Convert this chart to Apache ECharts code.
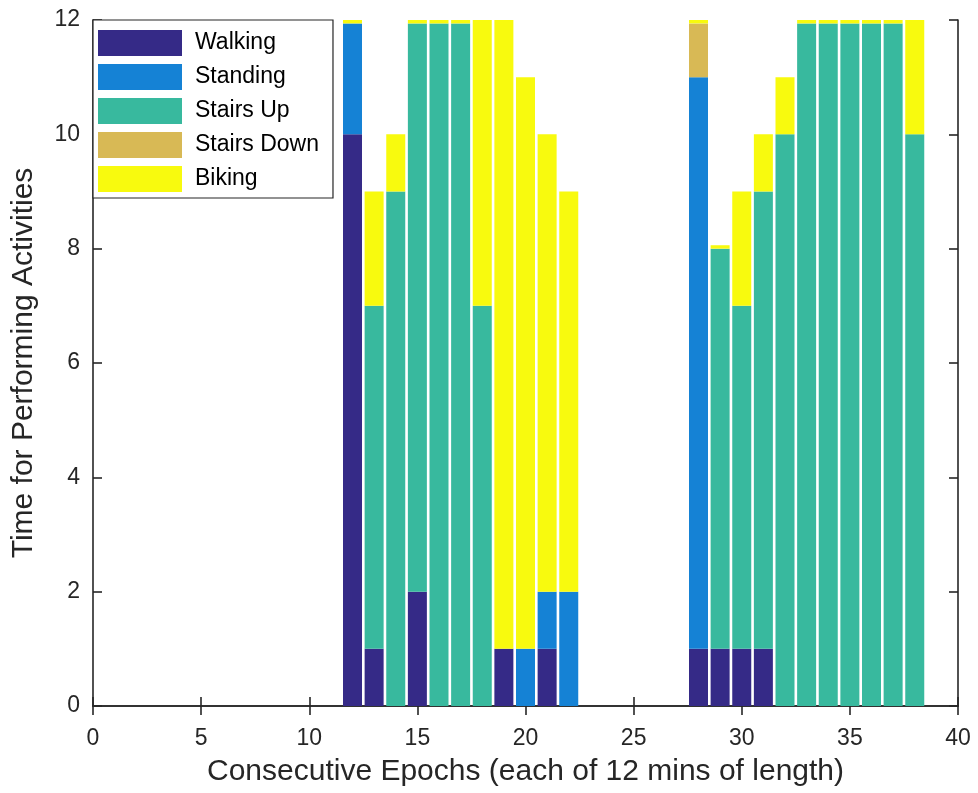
<!DOCTYPE html>
<html>
<head>
<meta charset="utf-8">
<script src="https://cdn.jsdelivr.net/npm/echarts@6/dist/echarts.min.js"></script>
<style>
  html, body { margin: 0; padding: 0; background: #fff; }
  #chart { width: 978px; height: 793px; }
</style>
</head>
<body>
<div id="chart"></div>
<script>
// Epoch positions 0..40 along the x axis (epoch 0 only anchors the axis start)
const epochs = Array.from({ length: 41 }, (_, i) => i);

// Minutes per activity in each epoch, keyed by epoch number
const walking = { 12: 10, 13: 1, 15: 2, 19: 1, 21: 1, 28: 1, 29: 1, 30: 1, 31: 1 };
const standing = { 12: 1.94, 20: 1, 21: 1, 22: 2, 28: 10 };
const stairsUp = { 13: 6, 14: 9, 15: 9.94, 16: 11.94, 17: 11.94, 18: 7, 29: 7, 30: 6, 31: 8,
                   32: 10, 33: 11.94, 34: 11.94, 35: 11.94, 36: 11.94, 37: 11.94, 38: 10 };
const stairsDown = { 28: 0.94 };
const biking = { 12: 0.06, 13: 2, 14: 1, 15: 0.06, 16: 0.06, 17: 0.06, 18: 5, 19: 11, 20: 10,
                 21: 8, 22: 7, 28: 0.06, 29: 0.06, 30: 2, 31: 1, 32: 1, 33: 0.06, 34: 0.06,
                 35: 0.06, 36: 0.06, 37: 0.06, 38: 2 };

const activityNames = ['Walking', 'Standing', 'Stairs Up', 'Stairs Down', 'Biking'];
const activityValues = [walking, standing, stairsUp, stairsDown, biking];
const activityColors = ['#352a87', '#1582d5', '#38b99e', '#d8b955', '#f8fa0e'];

// Labelled x ticks every 5 epochs; y ticks every 2 minutes
const xTickStep = 5;
const yTicks = { min: 0, max: 12, interval: 2 };

const textColor = '#262626';
const font = 'Liberation Sans, Arial, Helvetica, sans-serif';

const series = activityNames.map((name, k) => ({
  name,
  type: 'bar',
  stack: 'total',
  barWidth: 19,
  itemStyle: { color: activityColors[k] },
  data: epochs.map(e => activityValues[k][e] || 0),
  xAxisIndex: 0,
  yAxisIndex: 0
}));

const chart = echarts.init(document.getElementById('chart'), null, { renderer: 'canvas' });

const axisLine = { show: true, lineStyle: { color: textColor, width: 1.6 } };
const everyFifth = (i) => i % xTickStep === 0;
const xTickIn = { show: true, inside: true, length: 9, interval: everyFifth,
                  lineStyle: { color: textColor, width: 1.6 } };
const yTickIn = { show: true, inside: true, length: 9, lineStyle: { color: textColor, width: 1.6 } };

chart.setOption({
  animation: false,
  backgroundColor: '#ffffff',
  grid: { left: 93, right: 20, top: 20, bottom: 87, containLabel: false },
  legend: {
    orient: 'vertical',
    left: 93,
    top: 20,
    padding: [10, 14, 6, 5],
    itemGap: 8,
    itemWidth: 84,
    itemHeight: 26,
    backgroundColor: '#ffffff',
    borderColor: textColor,
    borderWidth: 1.2,
    borderRadius: 0,
    icon: 'rect',
    data: activityNames,
    textStyle: { color: '#000', fontFamily: font, fontSize: 23, padding: [0, 0, 0, 8] }
  },
  xAxis: [
    {
      type: 'category', position: 'bottom', boundaryGap: false,
      data: epochs,
      name: 'Consecutive Epochs (each of 12 mins of length)',
      nameLocation: 'middle', nameGap: 51,
      nameTextStyle: { color: textColor, fontFamily: font, fontSize: 30 },
      axisLine, axisTick: xTickIn,
      axisLabel: { color: textColor, fontFamily: font, fontSize: 23, margin: 21, interval: everyFifth },
      splitLine: { show: false }
    },
    {
      type: 'category', position: 'top', boundaryGap: false,
      data: epochs,
      axisLine, axisTick: xTickIn, axisLabel: { show: false }, splitLine: { show: false }
    }
  ],
  yAxis: [
    {
      type: 'value', position: 'left',
      min: yTicks.min, max: yTicks.max, interval: yTicks.interval,
      name: 'Time for Performing Activities',
      nameLocation: 'middle', nameGap: 54, nameRotate: 90,
      nameTextStyle: { color: textColor, fontFamily: font, fontSize: 30 },
      axisLine, axisTick: yTickIn,
      axisLabel: { color: textColor, fontFamily: font, fontSize: 23, margin: 13 },
      splitLine: { show: false }
    },
    {
      type: 'value', position: 'right',
      min: yTicks.min, max: yTicks.max, interval: yTicks.interval,
      axisLine, axisTick: yTickIn, axisLabel: { show: false }, splitLine: { show: false }
    }
  ],
  series
});
</script>
</body>
</html>
